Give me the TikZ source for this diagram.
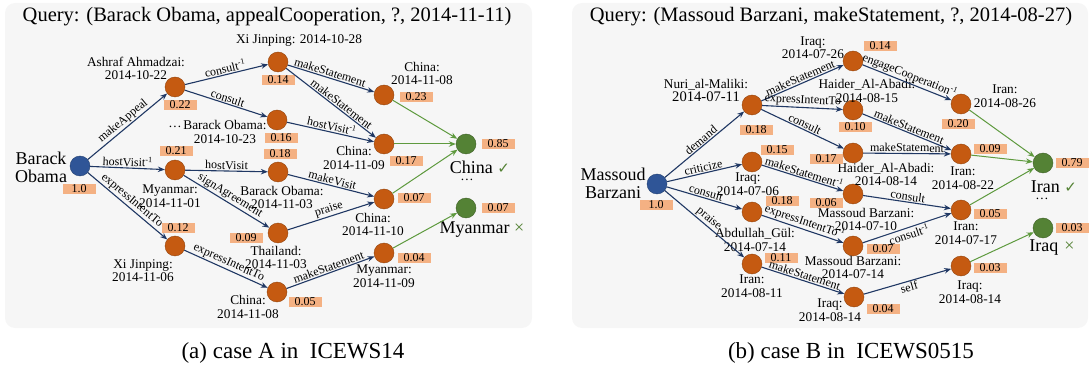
\documentclass[tikz,border=0pt]{standalone}
\usepackage{fontspec}
\setmainfont{Liberation Serif}
\newfontfamily\symfont{DejaVu Sans}
\usetikzlibrary{arrows.meta,positioning}

\definecolor{entorange}{HTML}{C55A11}
\definecolor{qblue}{HTML}{2F5597}
\definecolor{ansgreen}{HTML}{548235}
\definecolor{relblue}{HTML}{203864}
\definecolor{hitgreen}{HTML}{5E9A3E}
\definecolor{scorebg}{HTML}{F4B183}
\definecolor{panelbg}{HTML}{F6F6F6}

\tikzset{
  ent/.style={circle,draw=entorange!75!black,fill=entorange,minimum size=20pt,inner sep=0pt},
  qry/.style={ent,draw=qblue!75!black,fill=qblue},
  ans/.style={ent,draw=ansgreen!75!black,fill=ansgreen},
  score/.style={fill=scorebg,minimum width=33pt,minimum height=10pt,inner sep=0pt,font=\fontsize{12}{12}\selectfont},
  lbl/.style={align=center,inner sep=0pt,font=\fontsize{13.3}{13.5}\selectfont},
  big/.style={align=center,inner sep=0pt,font=\fontsize{18}{18}\selectfont},
  rel/.style={draw=relblue,line width=1.1pt,-{Stealth[length=7pt,width=5.5pt]}},
  hit/.style={draw=hitgreen,line width=1pt,-{Stealth[length=7pt,width=5.5pt]}},
  rlab/.style={font=\fontsize{12}{12}\selectfont,inner sep=1pt,sloped},
}

\begin{document}
\begin{tikzpicture}[x=1pt,y=-1pt]
\useasboundingbox (0,0) rectangle (1089,371);

% panels
\fill[panelbg,rounded corners=10pt] (5,3) rectangle (532,328);
\fill[panelbg,rounded corners=10pt] (572,3) rectangle (1088,328);
\node (titleA) at (267,17) [font=\fontsize{20.5}{20}\selectfont] {Query: (Barack Obama, appealCooperation, ?, 2014-11-11)};
\node (titleB) at (831,17) [font=\fontsize{20.5}{20}\selectfont] {Query: (Massoud Barzani, makeStatement, ?, 2014-08-27)};
\node (capA) at (293,353) [font=\fontsize{23}{23}\selectfont] {(a) case A in\ \ ICEWS14};
\node (capB) at (851,353) [font=\fontsize{23}{23}\selectfont] {(b) case B in\ \ ICEWS0515};

% case A: entities
\node (qa) at (80,166) [qry] {};
\node (a1) at (175,87) [ent] {};
\node (a2) at (278,62) [ent] {};
\node (a3) at (277,120) [ent] {};
\node (a4) at (175,170) [ent] {};
\node (a5) at (278,172) [ent] {};
\node (a6) at (175,246) [ent] {};
\node (a7) at (384,95) [ent] {};
\node (a8) at (384,144) [ent] {};
\node (a9) at (278,233) [ent] {};
\node (a10) at (277,292) [ent] {};
\node (a11) at (384,199) [ent] {};
\node (a12) at (384,253) [ent] {};
\node (ansA1) at (466,144) [ans] {};
\node (ansA2) at (466,208) [ans] {};

% case A: names
\node (lqa) at (41,167) [big] {Barack\\Obama};
\node (la1) at (136,68.5) [lbl] {Ashraf Ahmadzai:\\2014-10-22};
\node (la2) at (299,41) [lbl] {Xi Jinping: 2014-10-28};
\node (la3) at (225,132) [lbl] {Barack Obama:\\2014-10-23};
\node (dotsA0) at (175,127) [lbl] {\dots};
\node (la4) at (170,196) [lbl] {Myanmar:\\2014-11-01};
\node (la5) at (282,197.5) [lbl] {Barack Obama:\\2014-11-03};
\node (la6) at (143,270.5) [lbl] {Xi Jinping:\\2014-11-06};
\node (la7) at (422,73.5) [lbl] {China:\\2014-11-08};
\node (la8) at (354,158) [lbl] {China:\\2014-11-09};
\node (la9) at (276,257.5) [lbl] {Thailand:\\2014-11-03};
\node (la10) at (248,307) [lbl] {China:\\2014-11-08};
\node (la11) at (373,224.5) [lbl] {China:\\2014-11-10};
\node (la12) at (384,276) [lbl] {Myanmar:\\2014-11-09};
\node (lansA1) at (480,167) [big] {China {\symfont\color{ansgreen}\fontsize{15}{15}\selectfont ✓}};
\node (dotsA1) at (467,180) [lbl] {\dots};
\node (lansA2) at (482,230) [big] {Myanmar {\color{ansgreen}×}};

% case A: scores
\node (sqa) at (79,189) [score] {1.0};
\node (sa1) at (180,105) [score] {0.22};
\node (sa2) at (278,80) [score] {0.14};
\node (sa3) at (281,138) [score] {0.16};
\node (sa4) at (176,151) [score] {0.21};
\node (sa5) at (280,154) [score] {0.18};
\node (sa6) at (178,228) [score] {0.12};
\node (sa7) at (416,97) [score] {0.23};
\node (sa8) at (406,161) [score] {0.17};
\node (sa9) at (246,238) [score] {0.09};
\node (sa10) at (305,302) [score] {0.05};
\node (sa11) at (414,198) [score] {0.07};
\node (sa12) at (414,258) [score] {0.04};
\node (sansA1) at (498,144) [score] {0.85};
\node (sansA2) at (498,208) [score] {0.07};

% case A: paths
\draw[rel] (qa) -- node[rlab,above] {makeAppeal} (a1);
\draw[rel] (qa) -- node[rlab,above] {hostVisit\textsuperscript{-1}} (a4);
\draw[rel] (qa) -- node[rlab,above] {expressIntentTo} (a6);
\draw[rel] (a1) -- node[rlab,above] {consult\textsuperscript{-1}} (a2);
\draw[rel] (a1) -- node[rlab,above] {consult} (a3);
\draw[rel] (a2) -- node[rlab,above,pos=0.47] {makeStatement} (a7);
\draw[rel] (a2) -- node[rlab,above,pos=0.58] {makeStatement} (a8);
\draw[rel] (a3) -- node[rlab,above] {hostVisit\textsuperscript{-1}} (a8);
\draw[rel] (a4) -- node[rlab,above] {hostVisit} (a5);
\draw[rel] (a4) -- node[rlab,above] {signAgreement} (a9);
\draw[rel] (a5) -- node[rlab,above] {makeVisit} (a11);
\draw[rel] (a9) -- node[rlab,above] {praise} (a11);
\draw[rel] (a6) -- node[rlab,above] {expressIntentTo} (a10);
\draw[rel] (a10) -- node[rlab,above] {makeStatement} (a12);
\draw[hit] (a7) -- (ansA1);
\draw[hit] (a8) -- (ansA1);
\draw[hit] (a11) -- (ansA1);
\draw[hit] (a12) -- (ansA2);

% case B: entities
\node (qb) at (657,184) [qry] {};
\node (b1) at (752,105) [ent] {};
\node (b2) at (752,162) [ent] {};
\node (b3) at (752,212) [ent] {};
\node (b4) at (752,264) [ent] {};
\node (b5) at (853,61) [ent] {};
\node (b6) at (853,110) [ent] {};
\node (b7) at (853,153) [ent] {};
\node (b8) at (853,194) [ent] {};
\node (b9) at (853,246) [ent] {};
\node (b10) at (854,297) [ent] {};
\node (b11) at (961,104) [ent] {};
\node (b12) at (961,154) [ent] {};
\node (b13) at (961,210) [ent] {};
\node (b14) at (961,266) [ent] {};
\node (ansB1) at (1043,163) [ans] {};
\node (ansB2) at (1043,228) [ans] {};

% case B: names
\node (lqb) at (613,183) [big] {Massoud\\Barzani};
\node (lb1) at (706,90.5) [lbl] {Nuri\_al-Maliki:\\{\fontsize{14.6}{14}\selectfont 2014-07-11}};
\node (lb2) at (748,184) [lbl] {Iraq:\\2014-07-06};
\node (lb3) at (755,240) [lbl] {Abdullah\_Gül:\\2014-07-14};
\node (lb4) at (752,286) [lbl] {Iran:\\2014-08-11};
\node (lb5) at (813,47.5) [lbl] {Iraq:\\2014-07-26};
\node (lb6) at (867,91) [lbl] {Haider\_Al-Abadi:\\2014-08-15};
\node (lb7) at (886,174.5) [lbl] {Haider\_Al-Abadi:\\2014-08-14};
\node (lb8) at (866,219.5) [lbl] {Massoud Barzani:\\2014-07-10};
\node (lb9) at (853,267.5) [lbl] {Massoud Barzani:\\2014-07-14};
\node (lb10) at (830,310) [lbl] {Iraq:\\2014-08-14};
\node (lb11) at (1005,96) [lbl] {Iran:\\2014-08-26};
\node (lb12) at (963,178) [lbl] {Iran:\\2014-08-22};
\node (lb13) at (966,233) [lbl] {Iran:\\2014-07-17};
\node (lb14) at (970,292) [lbl] {Iraq:\\2014-08-14};
\node (lansB1) at (1054,187) [big] {Iran {\symfont\color{ansgreen}\fontsize{15}{15}\selectfont ✓}};
\node (dotsB1) at (1042,199) [lbl] {\dots};
\node (lansB2) at (1052,248) [big] {Iraq\hspace{6pt}{\color{ansgreen}×}};

% case B: scores
\node (sqb) at (656,205) [score] {1.0};
\node (sb1) at (756,130) [score] {0.18};
\node (sb2) at (777,150) [score] {0.15};
\node (sb3) at (782,201) [score] {0.18};
\node (sb4) at (781,258) [score] {0.11};
\node (sb5) at (880,46) [score] {0.14};
\node (sb6) at (855,127) [score] {0.10};
\node (sb7) at (826,159) [score] {0.17};
\node (sb8) at (826,203) [score] {0.06};
\node (sb9) at (883,249) [score] {0.07};
\node (sb10) at (883,309) [score] {0.04};
\node (sb11) at (958,124) [score] {0.20};
\node (sb12) at (990,149) [score] {0.09};
\node (sb13) at (990,214) [score] {0.05};
\node (sb14) at (990,268) [score] {0.03};
\node (sansB1) at (1072,163) [score] {0.79};
\node (sansB2) at (1072,228) [score] {0.03};

% case B: paths
\draw[rel] (qb) -- node[rlab,above] {demand} (b1);
\draw[rel] (qb) -- node[rlab,above] {criticize} (b2);
\draw[rel] (qb) -- node[rlab,above] {consult} (b3);
\draw[rel] (qb) -- node[rlab,above] {praise} (b4);
\draw[rel] (b1) -- node[rlab,above] {makeStatement} (b5);
\draw[rel] (b1) -- node[rlab,above] {expressIntentTo} (b6);
\draw[rel] (b1) -- node[rlab,above] {consult} (b7);
\draw[rel] (b2) -- node[rlab,above] {makeStatement\textsuperscript{-1}} (b8);
\draw[rel] (b3) -- node[rlab,above] {expressIntentTo\textsuperscript{-1}} (b9);
\draw[rel] (b4) -- node[rlab,above] {makeStatement} (b10);
\draw[rel] (b5) -- node[rlab,above] {engageCooperation\textsuperscript{-1}} (b11);
\draw[rel] (b6) -- node[rlab,above] {makeStatement} (b12);
\draw[rel] (b7) -- node[rlab,above] {makeStatement} (b12);
\draw[rel] (b8) -- node[rlab,above] {consult} (b13);
\draw[rel] (b9) -- node[rlab,below] {consult\textsuperscript{-1}} (b13);
\draw[rel] (b10) -- node[rlab,below] {self} (b14);
\draw[hit] (b11) -- (ansB1);
\draw[hit] (b12) -- (ansB1);
\draw[hit] (b13) -- (ansB1);
\draw[hit] (b14) -- (ansB2);
\end{tikzpicture}
\end{document}
